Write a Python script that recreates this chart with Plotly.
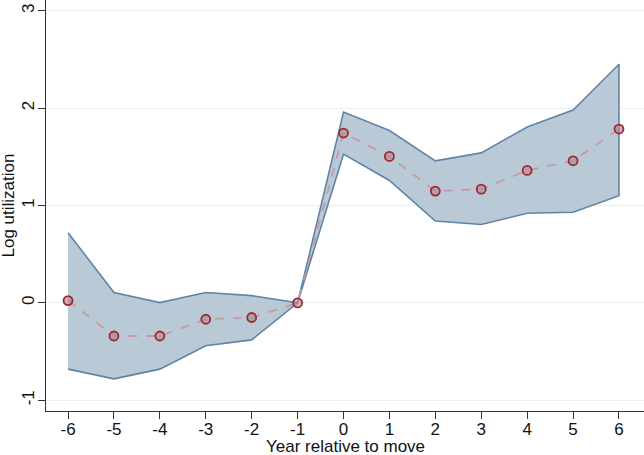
import plotly.graph_objects as go

years = [-6, -5, -4, -3, -2, -1, 0, 1, 2, 3, 4, 5, 6]
estimate = [0.024, -0.34, -0.34, -0.168, -0.15, 0.0, 1.744, 1.504, 1.148, 1.168, 1.36, 1.459, 1.785]
upper = [0.72, 0.106, 0.003, 0.106, 0.075, 0.0, 1.96, 1.77, 1.459, 1.54, 1.806, 1.98, 2.45]
lower = [-0.68, -0.78, -0.68, -0.44, -0.38, 0.0, 1.528, 1.257, 0.84, 0.805, 0.92, 0.93, 1.10]
x_ticks = [-6, -5, -4, -3, -2, -1, 0, 1, 2, 3, 4, 5, 6]
y_ticks = [-1, 0, 1, 2, 3]
x_title = "Year relative to move"
y_title = "Log utilization"

fig = go.Figure()

# confidence band as closed polygon
fig.add_trace(go.Scatter(
    x=years + years[::-1],
    y=upper + lower[::-1],
    fill="toself",
    fillcolor="#bac9d6",
    line=dict(color="#5f84a6", width=1.6),
    mode="lines",
    hoverinfo="skip",
    showlegend=False,
))

fig.add_trace(go.Scatter(
    x=years,
    y=estimate,
    mode="lines+markers",
    line=dict(color="rgba(196,150,158,0.9)", width=1.8, dash="dash"),
    marker=dict(symbol="circle", size=9, color="rgba(170,140,150,0.65)",
                line=dict(color="#a3262f", width=1.8)),
    showlegend=False,
))

font = "Liberation Sans, Arial, Helvetica, sans-serif"
W, H = 644, 455
L, B = 46, 44
plot_w, plot_h = W - L, H - B

fig.update_layout(
    width=W, height=H,
    margin=dict(l=L, r=0, t=0, b=B),
    paper_bgcolor="white",
    plot_bgcolor="white",
    font=dict(family=font, size=17, color="#111"),
    showlegend=False,
    xaxis=dict(
        range=[-6.48, 6.545],
        tickvals=x_ticks,
        ticktext=[str(v) for v in x_ticks],
        showgrid=False,
        zeroline=False,
        showline=True, linecolor="#333", linewidth=1.2,
        ticks="outside", ticklen=7, tickcolor="#333", tickwidth=1.2,
        ticklabelstandoff=-5,
        tickfont=dict(size=17),
    ),
    yaxis=dict(
        range=[-1.11, 3.11],
        tickvals=y_ticks,
        ticktext=[str(v) for v in y_ticks],
        tickangle=-90,
        ticklabelstandoff=-3,
        showgrid=True, gridcolor="#e6eff1", gridwidth=1.2,
        zeroline=False,
        showline=True, linecolor="#333", linewidth=1.2,
        ticks="outside", ticklen=7, tickcolor="#333", tickwidth=1.2,
        tickfont=dict(size=17),
    ),
    annotations=[
        dict(text=x_title, xref="paper", yref="paper", x=0.5, y=(plot_h - 447) / plot_h,
             xanchor="center", yanchor="middle", showarrow=False, font=dict(size=17)),
        dict(text=y_title, xref="paper", yref="paper", x=(8 - L) / plot_w, y=0.5,
             textangle=-90, xanchor="center", yanchor="middle", showarrow=False,
             font=dict(size=17)),
    ],
)

fig.write_html("out.html")
